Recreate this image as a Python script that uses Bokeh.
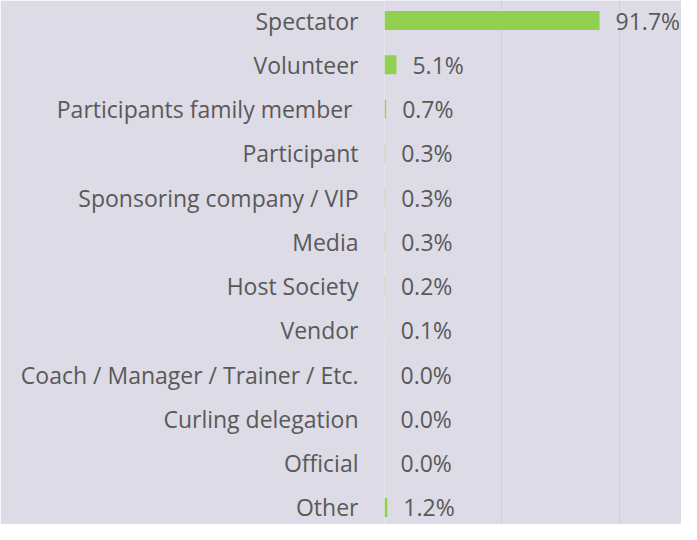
from bokeh.plotting import figure
from bokeh.models import Range1d, FixedTicker, ColumnDataSource
from bokeh.core.properties import value
from bokeh.embed import file_html
from bokeh.resources import INLINE

categories = ["Spectator", "Volunteer", "Participants family member ", "Participant",
              "Sponsoring company / VIP", "Media", "Host Society", "Vendor",
              "Coach / Manager / Trainer / Etc.", "Curling delegation", "Official", "Other"]
shares = [91.7, 5.1, 0.7, 0.3, 0.3, 0.3, 0.2, 0.1, 0.0, 0.0, 0.0, 1.2]
share_labels = ["91.7%", "5.1%", "0.7%", "0.3%", "0.3%", "0.3%", "0.2%", "0.1%",
                "0.0%", "0.0%", "0.0%", "1.2%"]
grid_ticks = [0, 0.5, 1.0]

n = len(categories)
ypos = [n - 1 - i for i in range(n)]
src = ColumnDataSource(dict(y=ypos, v=[s / 100 for s in shares], lab=share_labels))

BG = "#dddbe6"
TXT = "#595959"
FONT = "Open Sans"
FS = "23px"

p = figure(width=681, height=524, output_backend="svg", toolbar_location=None,
           x_range=Range1d(0, 1.2665), y_range=Range1d(-0.384, 11.452),
           min_border_left=384, min_border_right=0, min_border_top=0, min_border_bottom=0)
p.background_fill_color = BG
p.border_fill_color = BG
p.outline_line_color = None

p.hbar(y="y", left=0, right="v", height=0.43, source=src, color="#92d050", line_color=None)
p.text(x="v", y="y", text="lab", source=src, x_offset=16, text_baseline="middle",
       text_align="left", text_font=value(FONT), text_font_size=FS, text_color=TXT)

p.xaxis.visible = False
p.xaxis.ticker = FixedTicker(ticks=grid_ticks)
p.xgrid.ticker = FixedTicker(ticks=grid_ticks)
p.xgrid.grid_line_color = "#d0d0d6"
p.ygrid.visible = False

ya = p.yaxis[0]
ya.ticker = FixedTicker(ticks=ypos)
ya.major_label_overrides = {y: c for y, c in zip(ypos, categories)}
ya.axis_line_color = None
ya.major_tick_line_color = None
ya.minor_tick_line_color = None
ya.major_label_standoff = 20
ya.major_label_text_font = FONT
ya.major_label_text_font_size = FS
ya.major_label_text_color = TXT

open("out.html", "w").write(file_html(p, INLINE))
